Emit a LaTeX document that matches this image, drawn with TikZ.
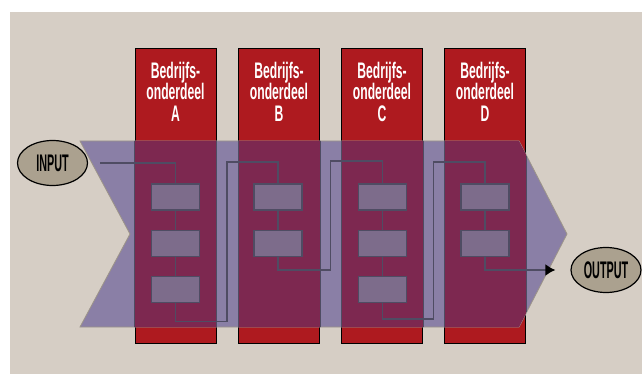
\documentclass[tikz,border=0pt]{standalone}
\usepackage{fontspec}
\usepackage{xcolor}
\usepackage{tikz}
\usetikzlibrary{positioning,shapes.geometric,arrows.meta}

\newfontfamily\colfont[FakeStretch=0.54]{Liberation Sans Bold}
\newfontfamily\ovalfont[FakeStretch=0.45]{Liberation Sans Bold}

\definecolor{bgbeige}{HTML}{D6CEC5}
\definecolor{colred}{HTML}{AE1A1F}
\definecolor{bandlav}{HTML}{8A7FA6}
\definecolor{bandedge}{HTML}{9C9489}
\definecolor{overlapred}{HTML}{7D2850}
\definecolor{boxfill}{HTML}{7D6C8B}
\definecolor{wiregray}{HTML}{4F4C63}
\definecolor{ovalfill}{HTML}{ABA18F}

\begin{document}
\begin{tikzpicture}[
    x=1pt, y=-1pt,
    node distance=19pt,
    column/.style={draw=black, line width=1pt, fill=colred, minimum width=81pt, minimum height=294pt, inner sep=0pt},
    hdtext/.style={align=center, text=white, inner sep=0pt, font=\colfont\fontsize{22.5}{21.5}\selectfont},
    bandshape/.style={insert path={(80,141) -- (519,141) -- (567,234) -- (519,327) -- (80,327) -- (130,234) -- cycle}},
    chevron/.style={fill=bandlav, draw=bandedge, line width=0.8pt},
    overlap/.style={fill=overlapred, draw=wiregray, line width=1pt},
    stepbox/.style={draw=wiregray, line width=1.2pt, fill=boxfill, minimum width=48pt, minimum height=26pt, inner sep=0pt},
    wire/.style={draw=wiregray, line width=1.8pt},
    oval/.style={ellipse, draw=black, line width=1.2pt, fill=ovalfill, minimum width=70pt, minimum height=45pt, inner sep=0pt, font=\ovalfont\fontsize{24}{24}\selectfont}
]
\useasboundingbox (0,0) rectangle (642,374);
\fill[bgbeige] (10,12) rectangle (642,374);

% Columns: bedrijfsonderdelen
\node[column] (colA) at (175.5,196) {};
\node[column] (colB) at (279,196) {};
\node[column] (colC) at (382,196) {};
\node[column] (colD) at (485,196) {};

\node[hdtext, below=13pt of colA.north] (hdA) {Bedrijfs-\\onderdeel\\A};
\node[hdtext, below=13pt of colB.north] (hdB) {Bedrijfs-\\onderdeel\\B};
\node[hdtext, below=13pt of colC.north] (hdC) {Bedrijfs-\\onderdeel\\C};
\node[hdtext, below=13pt of colD.north] (hdD) {Bedrijfs-\\onderdeel\\D};

% Process band
\path[chevron, bandshape];
\begin{scope}
  \clip[bandshape];
  \foreach \c in {colA,colB,colC,colD}
    \path[overlap] (\c.north west) rectangle (\c.south east);
\end{scope}

% Process steps
\node[stepbox] (a1) at (175.5,197) {};
\node[stepbox, below=of a1] (a2) {};
\node[stepbox, below=of a2] (a3) {};
\node[stepbox] (b1) at (278,197) {};
\node[stepbox, below=of b1] (b2) {};
\node[stepbox] (c1) at (382.5,197) {};
\node[stepbox, below=of c1] (c2) {};
\node[stepbox, below=of c2] (c3) {};
\node[stepbox] (d1) at (485,197) {};
\node[stepbox, below=of d1] (d2) {};

\node[oval] (inp) at (52.5,163) {INPUT};
\node[oval] (outp) at (606,270) {OUTPUT};

\coordinate (gab) at (227,162);
\coordinate (gbc) at (330.5,161);
\coordinate (gcd) at (433.5,162);

% Flow through the steps
\draw[wire, shorten <=12pt] (inp.east) -| (a1.north);
\draw[wire] (a1) -- (a2);
\draw[wire] (a2) -- (a3);
\draw[wire] (a3.south) -- ++(0,18.5) -| (gab) -| (b1.north);
\draw[wire] (b1) -- (b2);
\draw[wire] (b2.south) -- ++(0,13) -| (gbc) -| (c1.north);
\draw[wire] (c1) -- (c2);
\draw[wire] (c2) -- (c3);
\draw[wire] (c3.south) -- ++(0,16) -| (gcd) -| (d1.north);
\draw[wire] (d1) -- (d2);
\draw[wire, -{Latex[black,length=10pt,width=12pt]}, shorten >=15pt] (d2.south) |- (outp.west);

\end{tikzpicture}
\end{document}
